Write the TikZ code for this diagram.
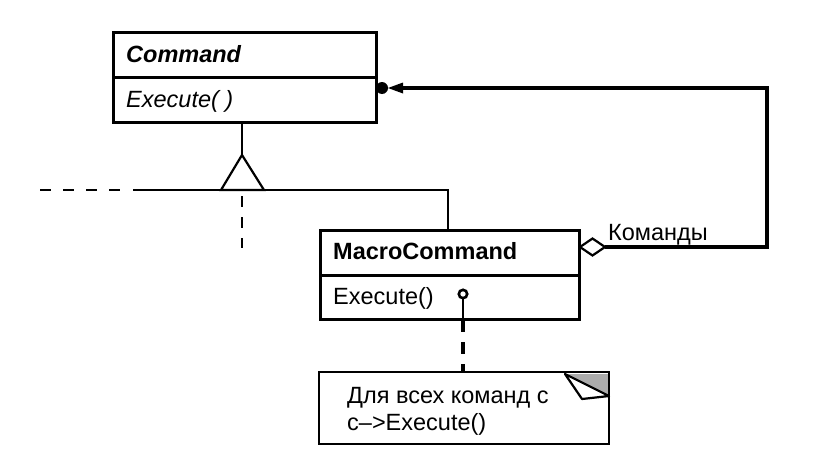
\documentclass[tikz,border=0pt]{standalone}
\usepackage{fontspec}
\setmainfont{Liberation Sans}
\begin{document}
\begin{tikzpicture}[x=1pt,y=-1pt,
  box/.style={draw, line width=2.8pt},
  conn/.style={line width=2.2pt},
  thickconn/.style={line width=3.2pt},
  lbl/.style={anchor=base west, inner sep=0pt, font=\fontsize{23.5}{28}\selectfont},
  dashedline/.style={line width=2.4pt, dash pattern=on 11pt off 12pt}
]
\useasboundingbox (0,0) rectangle (831,474);
% Command class
\node[box, minimum width=263pt, minimum height=45pt, anchor=north west, inner sep=0pt] (cmdhead) at (112,31) {};
\node[box, minimum width=263pt, minimum height=45pt, anchor=north west, inner sep=0pt] (cmdops) at (112,76) {};
\node[lbl] (cmdname) at (126,62) {\textbf{\textit{Command}}};
\node[lbl] (cmdexec) at (126,107) {\textit{Execute( )}};
% MacroCommand class
\node[box, minimum width=259pt, minimum height=45pt, anchor=north west, inner sep=0pt] (mchead) at (319,229) {};
\node[box, minimum width=259pt, minimum height=44pt, anchor=north west, inner sep=0pt] (mcops) at (319,274) {};
\node[lbl] (mcname) at (333,259) {\textbf{MacroCommand}};
\node[lbl] (mcexec) at (333,304) {Execute()};
% Generalization
\coordinate (apex) at (242,155);
\coordinate (tl) at (221,190);
\coordinate (tr) at (264,190);
\coordinate (hl) at (133,190);
\coordinate (hr) at (448,190);
\draw[conn] (cmdops.south -| apex) -- (apex);
\draw[conn, line join=miter] (apex) -- (tl) -- (tr) -- cycle;
\draw[conn] (hl) -- (hr) -- (hr |- mchead.north);
\coordinate (dl1) at (40,190);
\coordinate (dl2) at (125,190);
\draw[dashedline] (dl1) -- (dl2);
\coordinate (dv1) at (242,196);
\coordinate (dv2) at (242,248);
\draw[dash pattern=on 11pt off 10pt, line width=2.4pt] (dv1) -- (dv2);
% Lollipop
\coordinate (lolc) at (463,294);
\draw[line width=2.6pt] (lolc) circle (4.2pt);
\draw[line width=2.6pt] (463,298) -- (463,318);
% Note
\coordinate (nA) at (319,372);
\coordinate (nB) at (609,444);
\coordinate (fold1) at (565,374);
\coordinate (fold2) at (609,396);
\coordinate (fold3) at (582,399);
\node[anchor=north west, minimum width=290pt, minimum height=72pt, inner sep=0pt] (note) at (nA) {};
\fill[gray!65] (fold1) -- (609,374) -- (fold2) -- cycle;
\draw[box, line join=miter] (nA) rectangle (nB);
\draw[line width=2.2pt, line join=round, fill=white] (fold1) -- (fold2) -- (fold3) -- cycle;
\node[lbl] (nt1) at (347,403) {Для всех команд с};
\node[lbl] (nt2) at (347,430) {c–>Execute()};
\draw[line width=3.2pt, dash pattern=on 12pt off 10pt] (463,320) -- (note.north -| lolc);
% Aggregation
\coordinate (dl) at (580,247);
\coordinate (dt) at (592.5,238.5);
\coordinate (dr) at (605,247);
\coordinate (db) at (592.5,255.5);
\draw[conn, fill=white, line join=miter] (dl) -- (dt) -- (dr) -- (db) -- cycle;
\coordinate (c1) at (767,247);
\coordinate (c2) at (767,88);
\coordinate (arrbase) at (403,88);
\draw[thickconn, line join=miter] (dr) -- (c1) -- (c2) -- (arrbase);
\fill (arrbase) -- (403,82.5) -- (388,88) -- (403,93.5) -- cycle;
\fill (382,88) circle (6pt);
\node[lbl] (agglbl) at (608,240) {Команды};
\end{tikzpicture}
\end{document}
